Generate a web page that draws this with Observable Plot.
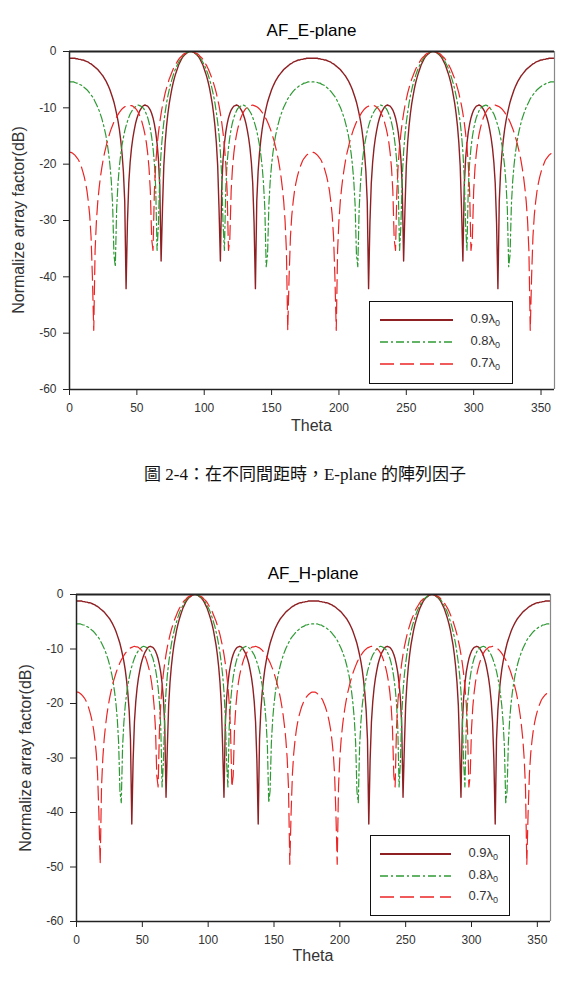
<!DOCTYPE html>
<html>
<head>
<meta charset="utf-8">
<script src="https://cdn.jsdelivr.net/npm/d3@7"></script>
<script src="https://cdn.jsdelivr.net/npm/@observablehq/plot@0.6"></script>
<style>
  html, body { margin: 0; padding: 0; background: #fff; }
  #page { position: relative; width: 588px; height: 999px; overflow: hidden;
          font-family: "Liberation Sans", Arial, sans-serif; color: #111; }
  .abs { position: absolute; white-space: nowrap; line-height: 1; }
  .ctr { transform: translate(-50%, -50%); }
  .legend { position: absolute; border: 1.5px solid #111; background: #fff; box-sizing: border-box; }
  .legend .lbl { position: absolute; font-size: 13px; color: #333; line-height: 1; transform: translateY(-50%); }
  .legend sub { font-size: 9px; vertical-align: -3px; }
</style>
</head>
<body>
<div id="page"></div>
<script>
// ---------------- data (dB values read per degree, 0..360) ----------------
const seriesLabels = ["0.9λ", "0.8λ", "0.7λ"];
const seriesSub = "0";
const xTicks = [0, 50, 100, 150, 200, 250, 300, 350];
const yTicks = [0, -10, -20, -30, -40, -50, -60];
const titles = ["AF_E-plane", "AF_H-plane"];
const xLabel = "Theta";
const yLabel = "Normalize array factor(dB)";
const caption = "圖 2-4：在不同間距時，E-plane 的陣列因子";

// 0.9 lambda
const af09 = [
  -1.2,-1.2,-1.2,-1.2,-1.2,-1.3,-1.3,-1.4,-1.4,-1.5,
  -1.5,-1.6,-1.7,-1.8,-1.9,-2.1,-2.2,-2.4,-2.6,-2.8,
  -3.0,-3.2,-3.5,-3.8,-4.1,-4.4,-4.8,-5.2,-5.7,-6.2,
  -6.8,-7.5,-8.2,-9.0,-10.0,-11.1,-12.3,-13.8,-15.7,-18.1,
  -21.3,-26.6,-42.1,-30.4,-23.4,-19.7,-17.2,-15.4,-14.0,-12.8,
  -11.9,-11.2,-10.6,-10.2,-9.8,-9.6,-9.5,-9.6,-9.7,-10.0,
  -10.4,-11.0,-11.8,-12.9,-14.3,-16.3,-19.1,-23.9,-37.2,-28.0,
  -20.3,-16.2,-13.3,-11.1,-9.3,-7.9,-6.6,-5.5,-4.6,-3.8,
  -3.1,-2.4,-1.9,-1.4,-1.0,-0.7,-0.5,-0.3,-0.1,0.0,
  0.0,0.0,-0.1,-0.3,-0.5,-0.7,-1.0,-1.4,-1.9,-2.4,
  -3.1,-3.8,-4.6,-5.5,-6.6,-7.9,-9.3,-11.1,-13.3,-16.2,
  -20.3,-28.0,-37.2,-23.9,-19.1,-16.3,-14.3,-12.9,-11.8,-11.0,
  -10.4,-10.0,-9.7,-9.6,-9.5,-9.6,-9.8,-10.2,-10.6,-11.2,
  -11.9,-12.8,-14.0,-15.4,-17.2,-19.7,-23.4,-30.4,-42.1,-26.6,
  -21.3,-18.1,-15.7,-13.8,-12.3,-11.1,-10.0,-9.0,-8.2,-7.5,
  -6.8,-6.2,-5.7,-5.2,-4.8,-4.4,-4.1,-3.8,-3.5,-3.2,
  -3.0,-2.8,-2.6,-2.4,-2.2,-2.1,-1.9,-1.8,-1.7,-1.6,
  -1.5,-1.5,-1.4,-1.4,-1.3,-1.3,-1.2,-1.2,-1.2,-1.2,
  -1.2,-1.2,-1.2,-1.2,-1.2,-1.3,-1.3,-1.4,-1.4,-1.5,
  -1.5,-1.6,-1.7,-1.8,-1.9,-2.1,-2.2,-2.4,-2.6,-2.8,
  -3.0,-3.2,-3.5,-3.8,-4.1,-4.4,-4.8,-5.2,-5.7,-6.2,
  -6.8,-7.5,-8.2,-9.0,-10.0,-11.1,-12.3,-13.8,-15.7,-18.1,
  -21.3,-26.6,-42.1,-30.4,-23.4,-19.7,-17.2,-15.4,-14.0,-12.8,
  -11.9,-11.2,-10.6,-10.2,-9.8,-9.6,-9.5,-9.6,-9.7,-10.0,
  -10.4,-11.0,-11.8,-12.9,-14.3,-16.3,-19.1,-23.9,-37.2,-28.0,
  -20.3,-16.2,-13.3,-11.1,-9.3,-7.9,-6.6,-5.5,-4.6,-3.8,
  -3.1,-2.4,-1.9,-1.4,-1.0,-0.7,-0.5,-0.3,-0.1,0.0,
  0.0,0.0,-0.1,-0.3,-0.5,-0.7,-1.0,-1.4,-1.9,-2.4,
  -3.1,-3.8,-4.6,-5.5,-6.6,-7.9,-9.3,-11.1,-13.3,-16.2,
  -20.3,-28.0,-37.2,-23.9,-19.1,-16.3,-14.3,-12.9,-11.8,-11.0,
  -10.4,-10.0,-9.7,-9.6,-9.5,-9.6,-9.8,-10.2,-10.6,-11.2,
  -11.9,-12.8,-14.0,-15.4,-17.2,-19.7,-23.4,-30.4,-42.1,-26.6,
  -21.3,-18.1,-15.7,-13.8,-12.3,-11.1,-10.0,-9.0,-8.2,-7.5,
  -6.8,-6.2,-5.7,-5.2,-4.8,-4.4,-4.1,-3.8,-3.5,-3.2,
  -3.0,-2.8,-2.6,-2.4,-2.2,-2.1,-1.9,-1.8,-1.7,-1.6,
  -1.5,-1.5,-1.4,-1.4,-1.3,-1.3,-1.2,-1.2,-1.2,-1.2,
  -1.2
];

// 0.8 lambda
const af08 = [
  -5.4,-5.4,-5.4,-5.4,-5.5,-5.6,-5.6,-5.8,-5.9,-6.0,
  -6.2,-6.4,-6.6,-6.8,-7.1,-7.4,-7.7,-8.0,-8.4,-8.9,
  -9.4,-9.9,-10.5,-11.2,-11.9,-12.8,-13.8,-14.9,-16.3,-18.0,
  -20.1,-22.9,-27.2,-36.1,-38.2,-27.9,-23.4,-20.4,-18.3,-16.6,
  -15.3,-14.1,-13.2,-12.4,-11.7,-11.1,-10.7,-10.3,-10.0,-9.8,
  -9.6,-9.5,-9.6,-9.7,-9.9,-10.1,-10.5,-11.1,-11.7,-12.6,
  -13.7,-15.2,-17.1,-19.8,-24.3,-35.3,-30.7,-22.2,-17.8,-14.8,
  -12.6,-10.8,-9.2,-7.9,-6.8,-5.8,-5.0,-4.2,-3.5,-2.9,
  -2.4,-1.9,-1.5,-1.1,-0.8,-0.6,-0.4,-0.2,-0.1,0.0,
  0.0,0.0,-0.1,-0.2,-0.4,-0.6,-0.8,-1.1,-1.5,-1.9,
  -2.4,-2.9,-3.5,-4.2,-5.0,-5.8,-6.8,-7.9,-9.2,-10.8,
  -12.6,-14.8,-17.8,-22.2,-30.7,-35.3,-24.3,-19.8,-17.1,-15.2,
  -13.7,-12.6,-11.7,-11.1,-10.5,-10.1,-9.9,-9.7,-9.6,-9.5,
  -9.6,-9.8,-10.0,-10.3,-10.7,-11.1,-11.7,-12.4,-13.2,-14.1,
  -15.3,-16.6,-18.3,-20.4,-23.4,-27.9,-38.2,-36.1,-27.2,-22.9,
  -20.1,-18.0,-16.3,-14.9,-13.8,-12.8,-11.9,-11.2,-10.5,-9.9,
  -9.4,-8.9,-8.4,-8.0,-7.7,-7.4,-7.1,-6.8,-6.6,-6.4,
  -6.2,-6.0,-5.9,-5.8,-5.6,-5.6,-5.5,-5.4,-5.4,-5.4,
  -5.4,-5.4,-5.4,-5.4,-5.5,-5.6,-5.6,-5.8,-5.9,-6.0,
  -6.2,-6.4,-6.6,-6.8,-7.1,-7.4,-7.7,-8.0,-8.4,-8.9,
  -9.4,-9.9,-10.5,-11.2,-11.9,-12.8,-13.8,-14.9,-16.3,-18.0,
  -20.1,-22.9,-27.2,-36.1,-38.2,-27.9,-23.4,-20.4,-18.3,-16.6,
  -15.3,-14.1,-13.2,-12.4,-11.7,-11.1,-10.7,-10.3,-10.0,-9.8,
  -9.6,-9.5,-9.6,-9.7,-9.9,-10.1,-10.5,-11.1,-11.7,-12.6,
  -13.7,-15.2,-17.1,-19.8,-24.3,-35.3,-30.7,-22.2,-17.8,-14.8,
  -12.6,-10.8,-9.2,-7.9,-6.8,-5.8,-5.0,-4.2,-3.5,-2.9,
  -2.4,-1.9,-1.5,-1.1,-0.8,-0.6,-0.4,-0.2,-0.1,0.0,
  0.0,0.0,-0.1,-0.2,-0.4,-0.6,-0.8,-1.1,-1.5,-1.9,
  -2.4,-2.9,-3.5,-4.2,-5.0,-5.8,-6.8,-7.9,-9.2,-10.8,
  -12.6,-14.8,-17.8,-22.2,-30.7,-35.3,-24.3,-19.8,-17.1,-15.2,
  -13.7,-12.6,-11.7,-11.1,-10.5,-10.1,-9.9,-9.7,-9.6,-9.5,
  -9.6,-9.8,-10.0,-10.3,-10.7,-11.1,-11.7,-12.4,-13.2,-14.1,
  -15.3,-16.6,-18.3,-20.4,-23.4,-27.9,-38.2,-36.1,-27.2,-22.9,
  -20.1,-18.0,-16.3,-14.9,-13.8,-12.8,-11.9,-11.2,-10.5,-9.9,
  -9.4,-8.9,-8.4,-8.0,-7.7,-7.4,-7.1,-6.8,-6.6,-6.4,
  -6.2,-6.0,-5.9,-5.8,-5.6,-5.6,-5.5,-5.4,-5.4,-5.4,
  -5.4
];

// 0.7 lambda
const af07 = [
  -17.9,-17.9,-18.0,-18.2,-18.4,-18.7,-19.0,-19.4,-20.0,-20.6,
  -21.4,-22.3,-23.4,-24.8,-26.7,-29.1,-32.9,-40.0,-49.5,-35.3,
  -30.0,-26.6,-24.2,-22.2,-20.6,-19.2,-18.0,-17.0,-16.0,-15.2,
  -14.4,-13.7,-13.1,-12.5,-12.0,-11.6,-11.2,-10.8,-10.5,-10.2,
  -10.0,-9.8,-9.7,-9.6,-9.5,-9.6,-9.6,-9.7,-9.9,-10.1,
  -10.4,-10.8,-11.3,-11.9,-12.7,-13.6,-14.7,-16.1,-18.0,-20.6,
  -24.7,-33.3,-35.3,-24.8,-20.0,-16.8,-14.5,-12.6,-11.0,-9.6,
  -8.5,-7.4,-6.5,-5.7,-4.9,-4.3,-3.7,-3.1,-2.6,-2.2,
  -1.8,-1.4,-1.1,-0.9,-0.6,-0.4,-0.3,-0.2,-0.1,0.0,
  0.0,0.0,-0.1,-0.2,-0.3,-0.4,-0.6,-0.9,-1.1,-1.4,
  -1.8,-2.2,-2.6,-3.1,-3.7,-4.3,-4.9,-5.7,-6.5,-7.4,
  -8.5,-9.6,-11.0,-12.6,-14.5,-16.8,-20.0,-24.8,-35.3,-33.3,
  -24.7,-20.6,-18.0,-16.1,-14.7,-13.6,-12.7,-11.9,-11.3,-10.8,
  -10.4,-10.1,-9.9,-9.7,-9.6,-9.6,-9.5,-9.6,-9.7,-9.8,
  -10.0,-10.2,-10.5,-10.8,-11.2,-11.6,-12.0,-12.5,-13.1,-13.7,
  -14.4,-15.2,-16.0,-17.0,-18.0,-19.2,-20.6,-22.2,-24.2,-26.6,
  -30.0,-35.3,-49.5,-40.0,-32.9,-29.1,-26.7,-24.8,-23.4,-22.3,
  -21.4,-20.6,-20.0,-19.4,-19.0,-18.7,-18.4,-18.2,-18.0,-17.9,
  -17.9,-17.9,-18.0,-18.2,-18.4,-18.7,-19.0,-19.4,-20.0,-20.6,
  -21.4,-22.3,-23.4,-24.8,-26.7,-29.1,-32.9,-40.0,-49.5,-35.3,
  -30.0,-26.6,-24.2,-22.2,-20.6,-19.2,-18.0,-17.0,-16.0,-15.2,
  -14.4,-13.7,-13.1,-12.5,-12.0,-11.6,-11.2,-10.8,-10.5,-10.2,
  -10.0,-9.8,-9.7,-9.6,-9.5,-9.6,-9.6,-9.7,-9.9,-10.1,
  -10.4,-10.8,-11.3,-11.9,-12.7,-13.6,-14.7,-16.1,-18.0,-20.6,
  -24.7,-33.3,-35.3,-24.8,-20.0,-16.8,-14.5,-12.6,-11.0,-9.6,
  -8.5,-7.4,-6.5,-5.7,-4.9,-4.3,-3.7,-3.1,-2.6,-2.2,
  -1.8,-1.4,-1.1,-0.9,-0.6,-0.4,-0.3,-0.2,-0.1,0.0,
  0.0,0.0,-0.1,-0.2,-0.3,-0.4,-0.6,-0.9,-1.1,-1.4,
  -1.8,-2.2,-2.6,-3.1,-3.7,-4.3,-4.9,-5.7,-6.5,-7.4,
  -8.5,-9.6,-11.0,-12.6,-14.5,-16.8,-20.0,-24.8,-35.3,-33.3,
  -24.7,-20.6,-18.0,-16.1,-14.7,-13.6,-12.7,-11.9,-11.3,-10.8,
  -10.4,-10.1,-9.9,-9.7,-9.6,-9.6,-9.5,-9.6,-9.7,-9.8,
  -10.0,-10.2,-10.5,-10.8,-11.2,-11.6,-12.0,-12.5,-13.1,-13.7,
  -14.4,-15.2,-16.0,-17.0,-18.0,-19.2,-20.6,-22.2,-24.2,-26.6,
  -30.0,-35.3,-49.5,-40.0,-32.9,-29.1,-26.7,-24.8,-23.4,-22.3,
  -21.4,-20.6,-20.0,-19.4,-19.0,-18.7,-18.4,-18.2,-18.0,-17.9,
  -17.9
];

// ---------------- styles ----------------
const seriesArrays = [af09, af08, af07];
const seriesColors = ["#8e1f22", "#2f9a35", "#ec2424"];
const seriesWidths = [1.4, 1.2, 1.2];
const seriesDash = [null, "8,3,2,3", "14,6"];

function rowsFor(arr) {
  return arr.map((v, i) => ({ theta: i, db: v }));
}

const page = document.getElementById("page");
const FONT = "'Liberation Sans', Arial, sans-serif";
const fmt = d => String(d); // plain hyphen minus, as in the reference

function addText(html, x, y, css) {
  const d = document.createElement("div");
  d.className = "abs ctr";
  d.style.left = x + "px";
  d.style.top = y + "px";
  d.innerHTML = html;
  Object.assign(d.style, css || {});
  page.appendChild(d);
  return d;
}

function panel(cfg) {
  const marks = [];
  [0, 1, 2].forEach(k => {
    const opts = { x: "theta", y: "db", stroke: seriesColors[k], strokeWidth: seriesWidths[k], clip: true };
    if (seriesDash[k]) opts.strokeDasharray = seriesDash[k];
    marks.push(Plot.line(rowsFor(seriesArrays[k]), opts));
  });
  marks.push(Plot.ruleX([360], { stroke: "#888", strokeWidth: 1.2 }));
  marks.push(Plot.ruleY([0], { stroke: "#222", strokeWidth: 2 }));
  marks.push(Plot.ruleY([-60], { stroke: "#222", strokeWidth: 1.5 }));
  marks.push(Plot.ruleX([0], { stroke: "#222", strokeWidth: 1.5 }));
  marks.push(Plot.axisX(xTicks, { tickSize: 6, tickPadding: 8, fontSize: 12, stroke: "#222", fill: "#333", tickFormat: fmt, label: null }));
  marks.push(Plot.axisY(yTicks, { tickSize: 6, tickPadding: 7, fontSize: 12, stroke: "#222", fill: "#333", tickFormat: fmt, label: null }));

  const svg = Plot.plot({
    width: 588,
    height: cfg.height,
    marginLeft: cfg.mL, marginRight: cfg.mR, marginTop: cfg.mT, marginBottom: cfg.mB,
    x: { domain: [0, 360], label: null },
    y: { domain: [-60, 0], label: null },
    style: { fontFamily: FONT, fontSize: "12px", color: "#222", background: "transparent" },
    marks
  });
  svg.style.position = "absolute";
  svg.style.left = "0px";
  svg.style.top = cfg.top + "px";
  page.appendChild(svg);

  const cx = (cfg.mL + 588 - cfg.mR) / 2;
  addText(cfg.title, cx, cfg.titleY, { fontSize: "17px", color: "#000" });
  addText(xLabel, cx, cfg.xLabelY, { fontSize: "16px", color: "#333" });
  addText(yLabel, cfg.yLabelX, cfg.top + cfg.mT + (cfg.height - cfg.mT - cfg.mB) / 2,
          { fontSize: "16px", color: "#333", transform: "translate(-50%,-50%) rotate(-90deg)" });

  const lg = document.createElement("div");
  lg.className = "legend";
  Object.assign(lg.style, { left: cfg.lg.x + "px", top: cfg.lg.y + "px", width: cfg.lg.w + "px", height: cfg.lg.h + "px" });
  const ns = "http://www.w3.org/2000/svg";
  const sw = document.createElementNS(ns, "svg");
  sw.setAttribute("width", cfg.lg.w);
  sw.setAttribute("height", cfg.lg.h);
  sw.style.position = "absolute"; sw.style.left = "-1.5px"; sw.style.top = "-1.5px";
  [0, 1, 2].forEach(k => {
    const ln = document.createElementNS(ns, "line");
    ln.setAttribute("x1", cfg.lg.lx0); ln.setAttribute("x2", cfg.lg.lx1);
    ln.setAttribute("y1", cfg.lg.rows[k]); ln.setAttribute("y2", cfg.lg.rows[k]);
    ln.setAttribute("stroke", seriesColors[k]);
    ln.setAttribute("stroke-width", k === 0 ? 2 : 1.3);
    if (seriesDash[k]) ln.setAttribute("stroke-dasharray", seriesDash[k]);
    sw.appendChild(ln);
    const t = document.createElement("div");
    t.className = "lbl";
    t.style.left = (cfg.lg.tx - 1.5) + "px";
    t.style.top = (cfg.lg.rows[k] - 1.5) + "px";
    t.innerHTML = seriesLabels[k] + "<sub>" + seriesSub + "</sub>";
    lg.appendChild(t);
  });
  lg.appendChild(sw);
  page.appendChild(lg);
}

panel({
  top: 0, height: 440, mL: 69, mR: 34, mT: 51, mB: 51,
  title: titles[0], titleY: 30, xLabelY: 426, yLabelX: 19,
  lg: { x: 369, y: 301, w: 144, h: 83, lx0: 11, lx1: 84, tx: 102, rows: [19, 41, 63] }
});

panel({
  top: 544, height: 427, mL: 76, mR: 38, mT: 50, mB: 50,
  title: titles[1], titleY: 573, xLabelY: 956, yLabelX: 26,
  lg: { x: 370, y: 835, w: 140, h: 81, lx0: 10, lx1: 81, tx: 99, rows: [19, 41, 62] }
});

addText(caption, 305, 474, { fontSize: "17px", color: "#111",
  fontFamily: "'Liberation Serif', 'Noto Sans CJK TC', serif" });
</script>
</body>
</html>
